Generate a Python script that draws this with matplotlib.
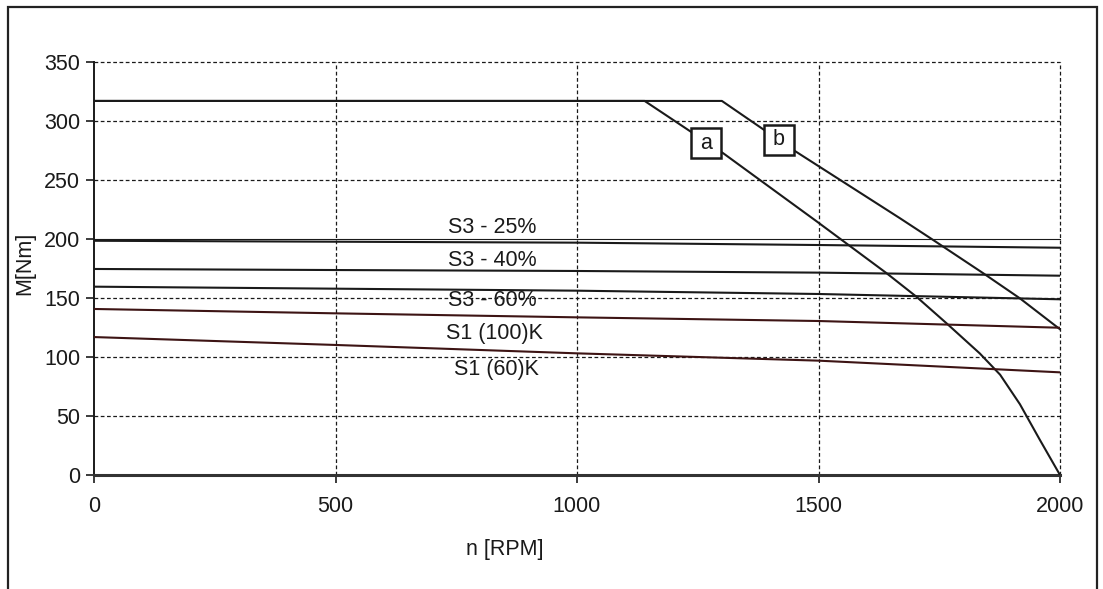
import matplotlib
matplotlib.use("Agg")
import matplotlib.pyplot as plt
from matplotlib.patches import Rectangle

plt.rcParams['font.family'] = ['Liberation Sans', 'DejaVu Sans']

# ---- data ----
curve_a_n = [0, 1140, 1303, 1496, 1641, 1703, 1765, 1834, 1876, 1917, 1958, 2000]
curve_a_m = [317, 317, 272.6, 215, 171, 151, 128.6, 103, 85, 60, 30, 0]

curve_b_n = [0, 1300, 1448, 1545, 1669, 1738, 1841, 1917, 2000]
curve_b_m = [317, 317, 275.4, 250, 217.5, 199, 171, 149.7, 123.5]

speed_pts = [0, 500, 1000, 1500, 2000]
s3_25 = [198.5, 197.7, 196.9, 194.9, 192.6]
s3_40 = [174.6, 173.7, 172.9, 171.5, 168.9]
s3_60 = [159.6, 157.9, 156.2, 153.4, 148.9]
s1_100k = [140.7, 137.0, 133.6, 130.5, 124.8]
s1_60k = [116.9, 110.2, 103.1, 96.9, 87.0]

curve_labels = ["S3 - 25%", "S3 - 40%", "S3 - 60%", "S1 (100)K", "S1 (60)K"]
label_n = [825, 825, 825, 829, 833]
label_m = [210, 182, 148.3, 120.3, 89]

box_labels = ["a", "b"]
box_n = [1268, 1418]
box_m = [281, 284]

x_ticks = [0, 500, 1000, 1500, 2000]
y_ticks = [0, 50, 100, 150, 200, 250, 300, 350]

# ---- figure ----
W, H = 1103, 589
fig = plt.figure(figsize=(W / 100, H / 100), dpi=100)
ax = fig.add_axes([94 / W, 1 - 475 / H, (1060 - 94) / W, (475 - 62) / H])

ax.set_xlim(0, 2000)
ax.set_ylim(0, 350)

dark = '#1a1a1a'
red_dark = '#3d1414'
fs = 15.5

# grid
for yv in y_ticks[1:]:
    if yv == 200:
        ax.axhline(yv, color=dark, lw=0.8, zorder=1, clip_on=False)
    else:
        ax.axhline(yv, color=dark, lw=0.9, ls=(0, (3, 2)), zorder=1, clip_on=False)
for xv in x_ticks[1:]:
    ax.axvline(xv, color=dark, lw=0.9, ls=(0, (3, 2)), zorder=1, clip_on=False)

lw = 1.5
ax.plot(curve_a_n, curve_a_m, color=dark, lw=lw, zorder=3)
ax.plot(curve_b_n, curve_b_m, color=dark, lw=lw, zorder=3)
ax.plot(speed_pts, s3_25, color=dark, lw=lw, zorder=3)
ax.plot(speed_pts, s3_40, color=dark, lw=lw, zorder=3)
ax.plot(speed_pts, s3_60, color=dark, lw=lw, zorder=3)
ax.plot(speed_pts, s1_100k, color=red_dark, lw=lw, zorder=3)
ax.plot(speed_pts, s1_60k, color=red_dark, lw=lw, zorder=3)

for t, xn, ym in zip(curve_labels, label_n, label_m):
    ax.text(xn, ym, t, ha='center', va='center', fontsize=fs, color=dark, zorder=4)

# labelled square boxes a / b
ax.plot(box_n, box_m, ls='none', marker='s', ms=21.5, mfc='white', mec=dark, mew=1.8, zorder=5)
for t, xn, ym in zip(box_labels, box_n, box_m):
    ax.text(xn, ym, t, ha='center', va='center', fontsize=fs, color=dark, zorder=6)

ax.set_xticks(x_ticks)
ax.set_yticks(y_ticks)
ax.tick_params(axis='both', labelsize=fs, length=6, width=1.2, color=dark, labelcolor=dark, pad=4)
ax.tick_params(axis='x', pad=9)

for s in ['top', 'right']:
    ax.spines[s].set_visible(False)
ax.spines['left'].set_color(dark)
ax.spines['left'].set_linewidth(1.4)
ax.spines['bottom'].set_color('#333333')
ax.spines['bottom'].set_linewidth(2.2)

fig.text(505 / W, 1 - 550 / H, "n [RPM]", ha='center', va='center', fontsize=fs, color=dark)
fig.text(25 / W, 1 - 263 / H, "M[Nm]", ha='center', va='center', fontsize=fs, color=dark, rotation=90)

# outer frame
fig.patches.append(Rectangle((8 / W, -0.1), (1097 - 8) / W, 1.1 - 7 / H, transform=fig.transFigure,
                             fill=False, ec='#222222', lw=1.6))

fig.savefig('out.png', dpi=100)
